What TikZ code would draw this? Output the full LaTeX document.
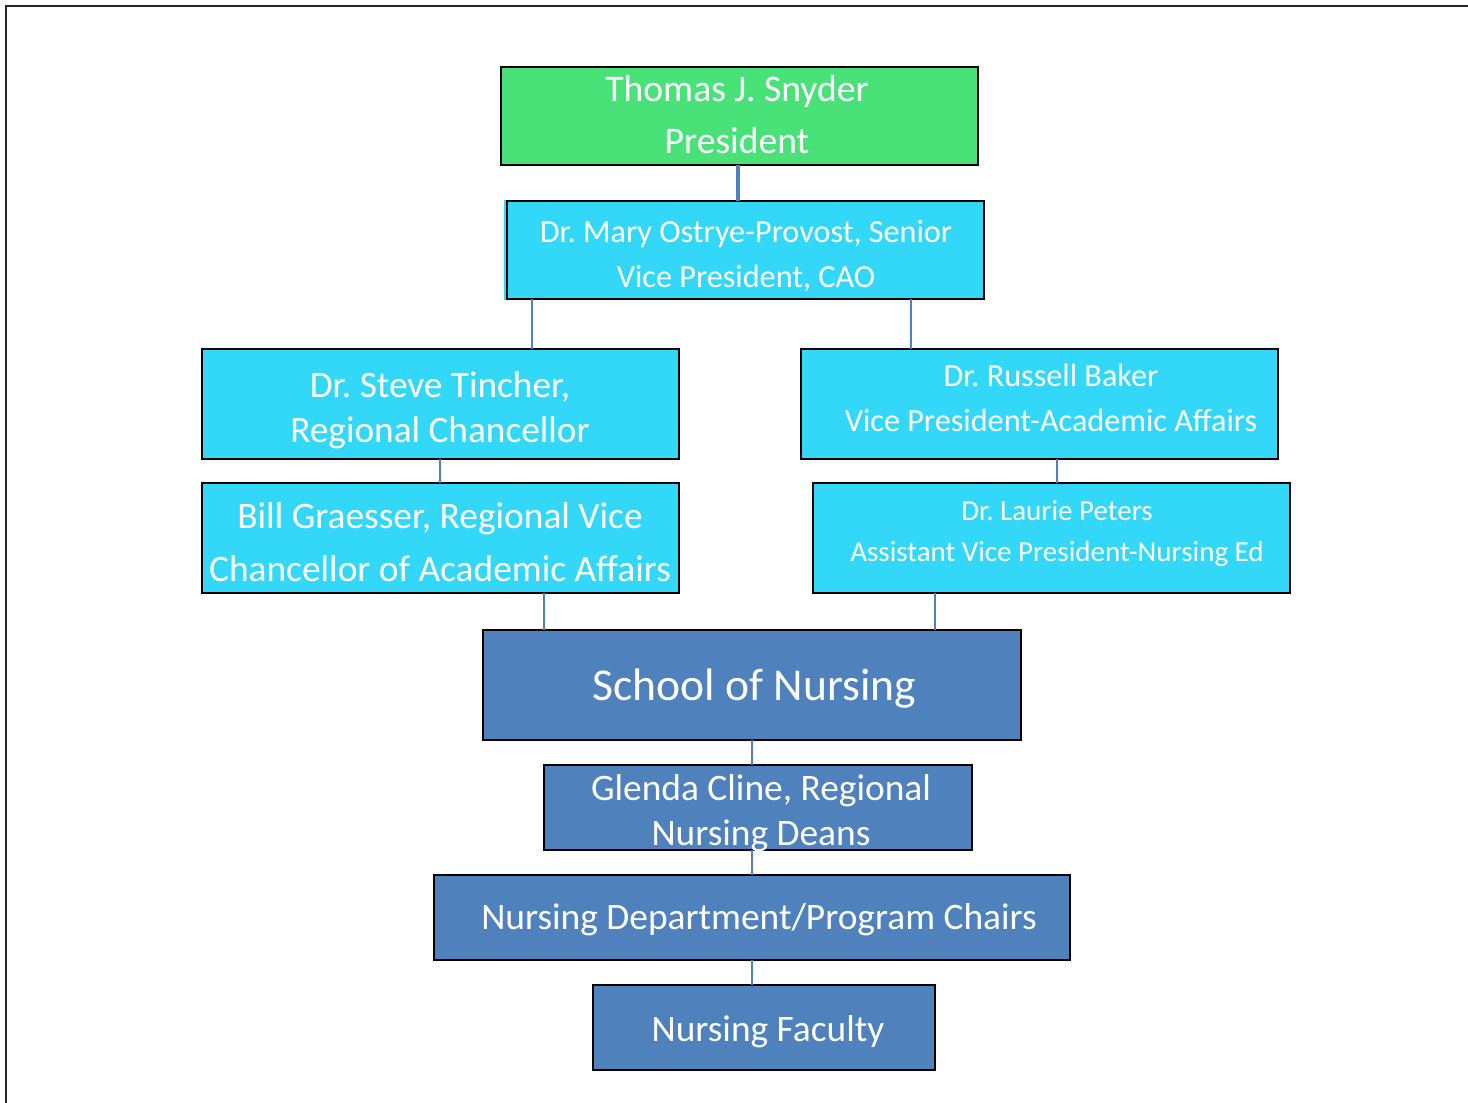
\documentclass[tikz,border=0pt]{standalone}
\usepackage{fontspec}
\setmainfont{Carlito}
\frenchspacing
\definecolor{pgreen}{RGB}{72,226,120}
\definecolor{pcyan}{RGB}{51,216,248}
\definecolor{pblue}{RGB}{79,129,189}
\definecolor{pline}{RGB}{79,129,189}
\tikzset{
  box/.style={draw=black, line width=1.6pt, inner sep=0pt, outer sep=0pt, anchor=north west},
  gbox/.style={box, fill=pgreen},
  cbox/.style={box, fill=pcyan},
  bbox/.style={box, fill=pblue},
  lbl/.style={anchor=base, inner sep=0pt, text=white},
  conn/.style={draw=pline, line width=2.4pt},
  fs/.style={font=\fontsize{#1}{#1}\selectfont}
}
\begin{document}
\begin{tikzpicture}[x=1pt,y=-1pt]
\useasboundingbox (0,0) rectangle (1468,1103);
% page frame
\draw[black!85, line width=2.6pt] (6,1103) -- (6,6) -- (1468,6);
% boxes
\node[gbox, minimum width=477pt, minimum height=98pt] (pres) at (501,67) {};
\fill[pcyan] (504,200) rectangle (984,300);
\node[cbox, minimum width=477pt, minimum height=98pt] (prov) at (507,201) {};
\node[cbox, minimum width=477pt, minimum height=110pt] (tin) at (202,349) {};
\node[cbox, minimum width=477pt, minimum height=110pt] (bak) at (801,349) {};
\node[cbox, minimum width=477pt, minimum height=110pt] (gra) at (202,483) {};
\node[cbox, minimum width=477pt, minimum height=110pt] (pet) at (813,483) {};
\node[bbox, minimum width=538pt, minimum height=110pt] (son) at (483,630) {};
\node[bbox, minimum width=428pt, minimum height=85pt] (gle) at (544,765) {};
\node[bbox, minimum width=636pt, minimum height=85pt] (cha) at (434,875) {};
\node[bbox, minimum width=342pt, minimum height=85pt] (fac) at (593,985) {};
% texts
\node[lbl, fs=37.6] (presA) at (737,101) {Thomas J. Snyder};
\node[lbl, fs=37.6] (presB) at (737,153) {President};
\node[lbl, fs=32.2] (provA) at (746,242) {Dr. Mary Ostrye-Provost, Senior};
\node[lbl, fs=32.2] (provB) at (746,287) {Vice President, CAO};
\node[lbl, fs=37.3] (tinA) at (440,397) {Dr. Steve Tincher,};
\node[lbl, fs=37.3] (tinB) at (440,442) {Regional Chancellor};
\node[lbl, fs=32.2] (bakA) at (1051,386) {Dr. Russell Baker};
\node[lbl, fs=32.2] (bakB) at (1051,431) {Vice President-Academic Affairs};
\node[lbl, fs=37.4] (graA) at (440,528) {Bill Graesser, Regional Vice};
\node[lbl, fs=37.4] (graB) at (440,581) {Chancellor of Academic Affairs};
\node[lbl, fs=29] (petA) at (1057,520) {Dr. Laurie Peters};
\node[lbl, fs=29] (petB) at (1057,561) {Assistant Vice President-Nursing Ed};
\node[lbl, fs=45.6] (sonA) at (754.5,700) {School of Nursing};
\node[lbl, fs=37.4] (gleA) at (761,800) {Glenda Cline, Regional};
\node[lbl, fs=37.4] (gleB) at (761,845) {Nursing Deans};
\node[lbl, fs=37.4] (chaA) at (759,929) {Nursing Department/Program Chairs};
\node[lbl, fs=37.4] (facA) at (768,1041.5) {Nursing Faculty};
% connectors
\draw[conn, line width=3.2pt] ([xshift=-1.5pt]pres.south) -- ([xshift=-7.5pt]prov.north);
\draw[conn] ([xshift=-213.5pt]prov.south) -- ([xshift=91.5pt]tin.north);
\draw[conn] ([xshift=165.5pt]prov.south) -- ([xshift=-128.5pt]bak.north);
\draw[conn] ([xshift=-0.5pt]tin.south) -- ([xshift=-0.5pt]gra.north);
\draw[conn] ([xshift=17.5pt]bak.south) -- ([xshift=5.5pt]pet.north);
\draw[conn] ([xshift=103.5pt]gra.south) -- ([xshift=-208pt]son.north);
\draw[conn] ([xshift=-116.5pt]pet.south) -- ([xshift=183pt]son.north);
\draw[conn] (son.south) -- ([xshift=-6pt]gle.north);
\draw[conn] ([xshift=-6pt]gle.south) -- (cha.north);
\draw[conn] (cha.south) -- ([xshift=-12pt]fac.north);
\end{tikzpicture}
\end{document}
